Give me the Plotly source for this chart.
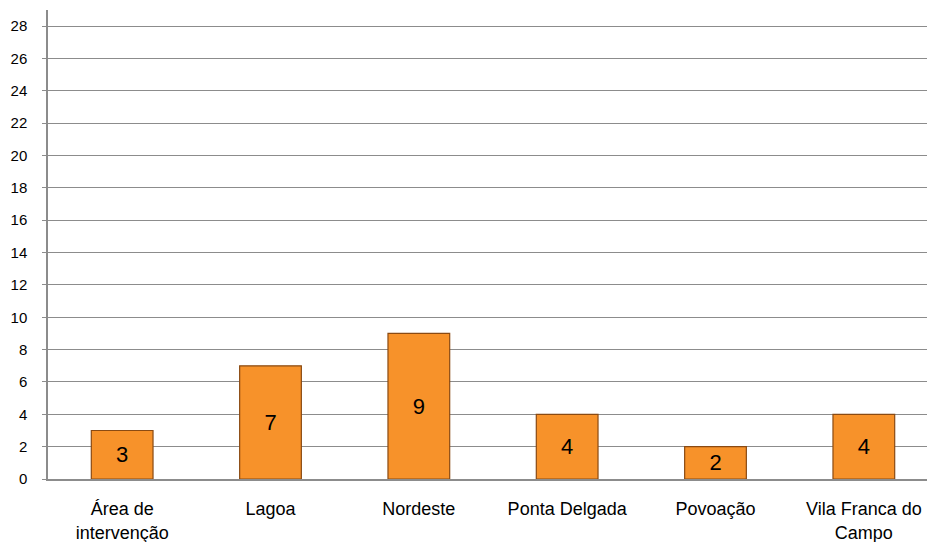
import plotly.graph_objects as go

categories = ["Área de<br>intervenção", "Lagoa", "Nordeste", "Ponta Delgada", "Povoação", "Vila Franca do<br>Campo"]
values = [3, 7, 9, 4, 2, 4]
y_ticks = list(range(0, 29, 2))

fig = go.Figure()
fig.add_trace(go.Bar(
    x=categories, y=values,
    marker=dict(color="#F7922A", line=dict(color="#8A4A12", width=1.2)),
    text=[str(v) for v in values], textposition="inside", insidetextanchor="middle",
    textfont=dict(family="Liberation Sans, Arial", size=22, color="black"),
    width=0.416,
))
fig.update_layout(
    width=930, height=534,
    margin=dict(l=40, r=0, t=2, b=63, autoexpand=False),
    paper_bgcolor="white", plot_bgcolor="white",
    showlegend=False,
    font=dict(family="Liberation Sans, Arial", color="black"),
)
fig.update_yaxes(
    range=[0, 29], tickvals=y_ticks, showgrid=True, gridcolor="#8C8C8C", gridwidth=1.3,
    showline=True, linecolor="#8C8C8C", linewidth=1.5,
    ticks="outside", ticklen=4, tickcolor="#8C8C8C",
    tickfont=dict(size=15), zeroline=False, automargin=False, ticklabelstandoff=12,
)
fig.update_xaxes(
    showline=True, linecolor="#8C8C8C", linewidth=1.5, tickfont=dict(size=18),
    ticks="", showgrid=False, automargin=False, ticklabelstandoff=13,
)
fig.write_html("out.html")
